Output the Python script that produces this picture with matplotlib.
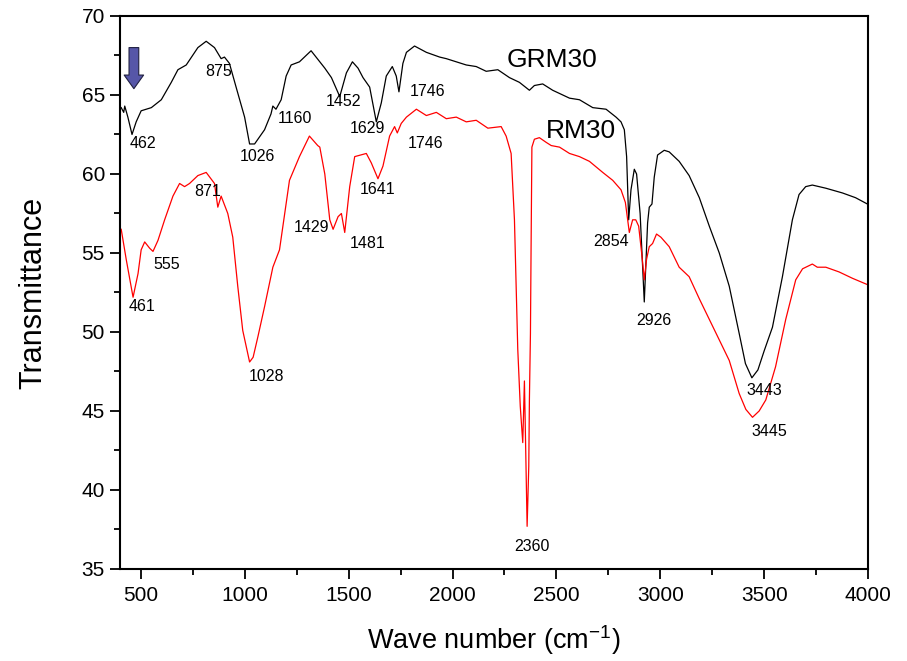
import matplotlib
matplotlib.use("Agg")
import matplotlib.pyplot as plt
from matplotlib.ticker import MultipleLocator

plt.rcParams['font.family'] = ['Liberation Sans', 'DejaVu Sans']
plt.rcParams['mathtext.fontset'] = 'custom'
plt.rcParams['mathtext.rm'] = 'Liberation Sans'
plt.rcParams['mathtext.it'] = 'Liberation Sans:italic'

# GRM30 spectrum (wavenumber, transmittance)
grm30_wn = [405, 417, 422, 437, 457, 477, 501, 550, 598, 646, 678, 718, 774, 814, 854,
            886, 902, 926, 958, 999, 1023, 1047, 1095, 1126, 1135, 1150, 1175, 1199,
            1223, 1263, 1319, 1385, 1417, 1457, 1489, 1518, 1545, 1569, 1601, 1633,
            1657, 1681, 1710, 1729, 1742, 1761, 1778, 1817, 1874, 1938, 1970, 2018,
            2066, 2114, 2162, 2218, 2274, 2322, 2370, 2394, 2434, 2482, 2563, 2611,
            2675, 2739, 2787, 2811, 2827, 2838, 2848, 2859, 2875, 2886, 2903, 2923,
            2939, 2947, 2960, 2971, 2987, 3019, 3043, 3091, 3139, 3188, 3236, 3284,
            3332, 3380, 3410, 3441, 3470, 3500, 3540, 3588, 3636, 3668, 3700, 3732,
            3797, 3877, 3940, 3997]
grm30_t = [64.2, 63.9, 64.3, 63.6, 62.5, 63.3, 64.0, 64.2, 64.7, 65.8, 66.6, 66.9, 68.0,
           68.4, 68.0, 67.3, 67.4, 67.0, 65.5, 63.6, 61.9, 61.9, 62.8, 63.8, 64.3, 64.1,
           64.7, 66.2, 66.9, 67.1, 67.8, 66.7, 66.1, 64.9, 66.4, 67.1, 66.7, 66.1, 65.5,
           63.3, 64.5, 66.2, 66.8, 66.2, 65.2, 67.0, 67.7, 68.1, 67.7, 67.4, 67.3, 67.1,
           66.9, 66.8, 66.5, 66.6, 66.1, 65.8, 65.3, 65.6, 65.7, 65.3, 64.8, 64.7, 64.2,
           64.1, 63.6, 63.3, 62.8, 61.1, 57.1, 59.0, 60.3, 60.0, 57.5, 51.9, 56.9, 57.9,
           58.1, 59.8, 61.2, 61.5, 61.4, 60.8, 59.9, 58.5, 56.7, 55.0, 52.9, 49.9, 48.0,
           47.1, 47.6, 48.8, 50.3, 53.5, 57.1, 58.7, 59.2, 59.3, 59.1, 58.8, 58.5, 58.1]

# RM30 spectrum (wavenumber, transmittance)
rm30_wn = [405, 429, 462, 486, 501, 518, 542, 558, 582, 614, 654, 686, 710, 734, 774,
           814, 854, 870, 886, 918, 942, 966, 990, 1023, 1040, 1063, 1095, 1135, 1167,
           1215, 1263, 1311, 1351, 1361, 1385, 1409, 1425, 1449, 1465, 1481, 1505,
           1529, 1585, 1609, 1641, 1665, 1697, 1721, 1734, 1753, 1778, 1826, 1874,
           1922, 1970, 2018, 2066, 2114, 2170, 2234, 2258, 2282, 2298, 2314, 2326,
           2338, 2346, 2351, 2359, 2367, 2370, 2375, 2378, 2382, 2394, 2418, 2451,
           2475, 2515, 2563, 2611, 2659, 2723, 2771, 2811, 2832, 2843, 2851, 2867,
           2882, 2896, 2912, 2923, 2934, 2947, 2963, 2982, 3003, 3043, 3091, 3139,
           3188, 3236, 3284, 3332, 3380, 3412, 3444, 3476, 3508, 3555, 3604, 3652,
           3685, 3732, 3756, 3797, 3861, 3925, 3997]
rm30_t = [56.5, 54.6, 52.2, 53.7, 55.2, 55.7, 55.3, 55.1, 55.8, 57.1, 58.6, 59.4, 59.2,
          59.4, 59.9, 60.1, 59.4, 57.9, 58.6, 57.5, 56.0, 52.9, 50.1, 48.1, 48.4, 49.7,
          51.6, 54.1, 55.2, 59.6, 61.1, 62.4, 61.8, 61.7, 60.0, 57.1, 56.5, 57.3, 57.5,
          56.3, 59.2, 61.1, 61.3, 60.7, 59.7, 60.5, 62.4, 63.0, 62.6, 63.2, 63.6, 64.1,
          63.7, 63.9, 63.5, 63.6, 63.3, 63.4, 62.9, 63.0, 62.4, 61.3, 57.1, 48.9, 45.3,
          43.0, 46.9, 43.4, 37.7, 41.5, 45.7, 49.9, 55.2, 61.7, 62.2, 62.3, 62.0, 61.8,
          61.7, 61.3, 61.1, 60.8, 60.1, 59.6, 59.0, 58.2, 57.1, 56.3, 57.1, 57.1, 56.7,
          54.8, 53.3, 54.6, 55.4, 55.6, 56.2, 56.0, 55.4, 54.1, 53.5, 52.1, 50.8, 49.5,
          48.2, 46.1, 45.1, 44.6, 45.0, 45.7, 47.8, 50.8, 53.3, 54.0, 54.3, 54.1, 54.1,
          53.8, 53.4, 53.0]

# Peak labels: (text, x, y)
grm30_peaks = [("462", 510, 61.96), ("875", 876, 66.46), ("1026", 1063, 61.1),
               ("1160", 1241, 63.5), ("1452", 1473, 64.6), ("1629", 1592, 62.9),
               ("1746", 1880, 65.25), ("2926", 2971, 50.75), ("3443", 3500, 46.3)]
rm30_peaks = [("461", 505, 51.6), ("555", 625, 54.3), ("871", 823, 58.9),
              ("1028", 1102, 47.2), ("1429", 1323, 56.6), ("1481", 1592, 55.6),
              ("1641", 1640, 59.05), ("1746", 1872, 61.96), ("2360", 2380, 36.4),
              ("2854", 2765, 55.75), ("3445", 3524, 43.7)]

fig = plt.figure(figsize=(9.07, 6.61), dpi=100)
ax = fig.add_axes([0.1325, 0.1392, 0.8245, 0.8366])

ax.plot(grm30_wn, grm30_t, color='black', lw=0.9)
ax.plot(rm30_wn, rm30_t, color='red', lw=0.9)

for txt, x, y in grm30_peaks + rm30_peaks:
    ax.text(x, y, txt, ha='center', va='center', fontsize=11.5)

ax.text(2477, 67.2, "GRM30", ha='center', va='center', fontsize=19)
ax.text(2620, 62.7, "RM30", ha='center', va='center', fontsize=19)

# marker arrow above the 462 band
ax.annotate('', xy=(466, 65.4), xytext=(466, 68.0),
            arrowprops=dict(arrowstyle='simple,head_width=1.0,head_length=0.7,tail_width=0.5',
                            mutation_scale=14, shrinkA=0, shrinkB=0,
                            fc='#5656a8', ec='#202040', lw=0.8))

ax.set_xlim(400, 4000)
ax.set_ylim(35, 70)
ax.xaxis.set_major_locator(MultipleLocator(500))
ax.xaxis.set_minor_locator(MultipleLocator(250))
ax.yaxis.set_major_locator(MultipleLocator(5))
ax.yaxis.set_minor_locator(MultipleLocator(2.5))
ax.tick_params(axis='both', which='major', direction='out', length=7.5, width=1.3,
               labelsize=15, top=False, right=False)
ax.tick_params(axis='both', which='minor', direction='out', length=4, width=1.3,
               top=False, right=False)
ax.tick_params(axis='x', which='major', pad=5)

for s in ax.spines.values():
    s.set_linewidth(1.5)

ax.set_xlabel(r'Wave number (cm$^{-1}$)', fontsize=19.5, labelpad=13)
ax.set_ylabel('Transmittance', fontsize=22, labelpad=24)

fig.savefig('out.png', dpi=100)
